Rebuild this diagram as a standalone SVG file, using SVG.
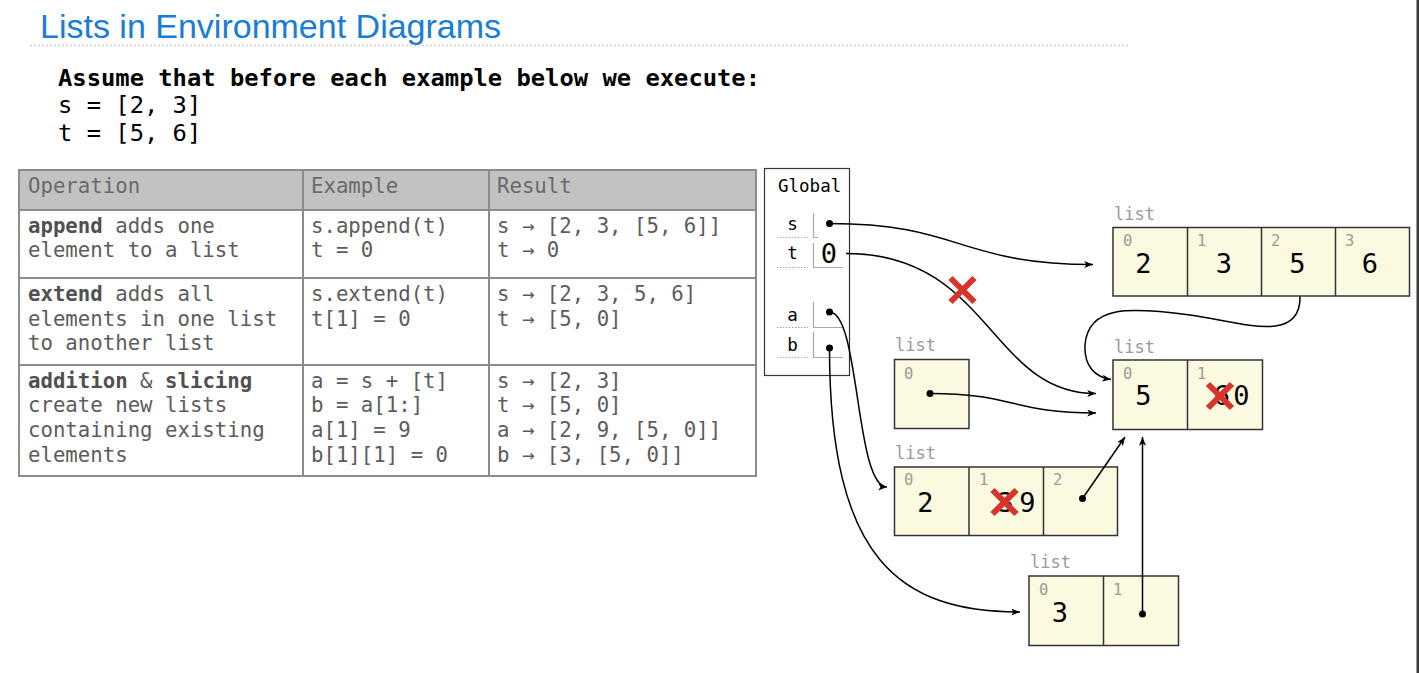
<svg xmlns="http://www.w3.org/2000/svg" width="1419" height="673" viewBox="0 0 1419 673">
<style>
.mono{font-family:"DejaVu Sans Mono","Liberation Mono",monospace}
.tb{font-family:"DejaVu Sans Mono","Liberation Mono",monospace;font-size:20.7px;fill:#5c5c5c}
.th{font-family:"DejaVu Sans Mono","Liberation Mono",monospace;font-size:20.7px;fill:#6a6a6a}
.b{font-weight:bold;fill:#505050}
.grid{stroke:#8c8c8c;stroke-width:2;fill:none}
.cell{fill:#fcf9e1;stroke:#333;stroke-width:1.5}
.div{stroke:#333;stroke-width:1.5}
.lbl{font-family:"DejaVu Sans Mono","Liberation Mono",monospace;font-size:17px;fill:#9a9a9a}
.idx{font-family:"DejaVu Sans Mono","Liberation Mono",monospace;font-size:15.5px;fill:#9a9a9a}
.val{font-family:"DejaVu Sans Mono","Liberation Mono",monospace;font-size:27px;fill:#000;text-anchor:middle}
.var{font-family:"DejaVu Sans Mono","Liberation Mono",monospace;font-size:17.5px;fill:#000;text-anchor:middle}
.slot{stroke:#a8a8a8;stroke-width:1.2;fill:none}
.dots{stroke:#a8a8a8;stroke-width:1.2;stroke-dasharray:1.5,1.5;fill:none}
.ptr{stroke:#000;stroke-width:1.5;fill:none}
.redx{stroke:#d8352a;stroke-width:6;fill:none}
</style>
<defs>
<marker id="ah" viewBox="0 0 10 8" refX="10" refY="4" markerWidth="10" markerHeight="7" markerUnits="userSpaceOnUse" orient="auto">
<path d="M0,0 L10,4 L0,8 L2.5,4 z" fill="#000"/>
</marker>
<path id="x" d="M-12,-12 L12,12 M12,-12 L-12,12"/>
</defs>
<rect width="1419" height="673" fill="#fff"/>
<rect x="1416.5" y="0" width="2.5" height="673" fill="#3a3a3c"/>

<g id="title">
<text x="40" y="38" font-family="Liberation Sans, Arial, sans-serif" font-size="34" fill="#1a7dd4">Lists in Environment Diagrams</text>
<line x1="30" y1="45.5" x2="1128" y2="45.5" stroke="#cfcfcf" stroke-width="1.5" stroke-dasharray="2,2"/>
</g>

<g id="intro" class="mono" font-size="23.8">
<text x="58" y="86" font-weight="bold">Assume that before each example below we execute:</text>
<text x="58" y="113">s = [2, 3]</text>
<text x="58" y="141">t = [5, 6]</text>
</g>

<g id="table">
<rect x="19" y="170" width="737" height="40" fill="#c2c2c2"/>
<rect x="19" y="170" width="737" height="306" class="grid"/>
<line x1="19" y1="210" x2="756" y2="210" class="grid"/>
<line x1="19" y1="278" x2="756" y2="278" class="grid"/>
<line x1="19" y1="365" x2="756" y2="365" class="grid"/>
<line x1="303" y1="170" x2="303" y2="476" class="grid"/>
<line x1="489" y1="170" x2="489" y2="476" class="grid"/>
<text class="th" x="28" y="193">Operation</text>
<text class="th" x="311" y="193">Example</text>
<text class="th" x="497" y="193">Result</text>
<text class="tb" x="28" y="233"><tspan class="b">append</tspan> adds one</text>
<text class="tb" x="28" y="257">element to a list</text>
<text class="tb" x="311" y="233">s.append(t)</text>
<text class="tb" x="311" y="257">t = 0</text>
<text class="tb" x="497" y="233">s → [2, 3, [5, 6]]</text>
<text class="tb" x="497" y="257">t → 0</text>
<text class="tb" x="28" y="301"><tspan class="b">extend</tspan> adds all</text>
<text class="tb" x="28" y="326">elements in one list</text>
<text class="tb" x="28" y="350">to another list</text>
<text class="tb" x="311" y="301">s.extend(t)</text>
<text class="tb" x="311" y="326">t[1] = 0</text>
<text class="tb" x="497" y="301">s → [2, 3, 5, 6]</text>
<text class="tb" x="497" y="326">t → [5, 0]</text>
<text class="tb" x="28" y="388"><tspan class="b">addition</tspan> &amp; <tspan class="b">slicing</tspan></text>
<text class="tb" x="28" y="412">create new lists</text>
<text class="tb" x="28" y="437">containing existing</text>
<text class="tb" x="28" y="462">elements</text>
<text class="tb" x="311" y="388">a = s + [t]</text>
<text class="tb" x="311" y="412">b = a[1:]</text>
<text class="tb" x="311" y="437">a[1] = 9</text>
<text class="tb" x="311" y="462">b[1][1] = 0</text>
<text class="tb" x="497" y="388">s → [2, 3]</text>
<text class="tb" x="497" y="412">t → [5, 0]</text>
<text class="tb" x="497" y="437">a → [2, 9, [5, 0]]</text>
<text class="tb" x="497" y="462">b → [3, [5, 0]]</text>
</g>

<g id="global">
<rect x="764.5" y="168.5" width="85" height="207" fill="#fff" stroke="#333" stroke-width="1.2"/>
<text x="778" y="191.5" class="mono" font-size="17.5">Global</text>
<text class="var" x="792.5" y="229.5">s</text>
<text class="var" x="792.5" y="259">t</text>
<text class="var" x="792.5" y="321">a</text>
<text class="var" x="792.5" y="350.5">b</text>
<path class="dots" d="M777,237.5 H808 M777,267.5 H808 M777,327.5 H808 M777,357.5 H808"/>
<path class="slot" d="M813.5,213 V237.5 H818 M813.5,243 V267.5 H843 M813.5,302 V327.5 H843 M813.5,332 V357.5 H843"/>
<text x="829" y="263" class="val" font-size="25">0</text>
</g>

<g id="list-s">
<text class="lbl" x="1114" y="220">list</text>
<rect class="cell" x="1113" y="227.5" width="296.5" height="68.5"/>
<path class="div" d="M1187.5,227.5 V296 M1261.5,227.5 V296 M1335.5,227.5 V296"/>
<text class="idx" x="1123" y="246">0</text>
<text class="idx" x="1197" y="246">1</text>
<text class="idx" x="1271" y="246">2</text>
<text class="idx" x="1345" y="246">3</text>
<text class="val" x="1143.5" y="273">2</text>
<text class="val" x="1224" y="273">3</text>
<text class="val" x="1297.5" y="273">5</text>
<text class="val" x="1370" y="273">6</text>
</g>

<g id="list-t">
<text class="lbl" x="1114" y="353">list</text>
<rect class="cell" x="1113" y="360" width="149.5" height="69.5"/>
<path class="div" d="M1187.5,360 V429.5"/>
<text class="idx" x="1123" y="379">0</text>
<text class="idx" x="1197" y="379">1</text>
<text class="val" x="1143.5" y="405">5</text>
<text class="val" x="1222" y="405">6</text>
<text class="val" x="1241.5" y="405">0</text>
<use href="#x" x="1220" y="396" class="redx"/>
</g>

<g id="list-wrap">
<text class="lbl" x="895" y="351">list</text>
<rect class="cell" x="894.5" y="359.5" width="74.5" height="69"/>
<text class="idx" x="904" y="378.5">0</text>
</g>

<g id="list-a">
<text class="lbl" x="895" y="458.5">list</text>
<rect class="cell" x="894.5" y="467" width="223" height="68.5"/>
<path class="div" d="M969,467 V535.5 M1043.5,467 V535.5"/>
<text class="idx" x="904" y="485">0</text>
<text class="idx" x="979" y="485">1</text>
<text class="idx" x="1053" y="485">2</text>
<text class="val" x="925.5" y="512">2</text>
<text class="val" x="1006" y="512">3</text>
<text class="val" x="1027.5" y="512">9</text>
<use href="#x" x="1004.5" y="502" class="redx"/>
</g>

<g id="list-b">
<text class="lbl" x="1030" y="567.5">list</text>
<rect class="cell" x="1029" y="576" width="149.5" height="69.5"/>
<path class="div" d="M1103.5,576 V645.5"/>
<text class="idx" x="1039" y="594.5">0</text>
<text class="idx" x="1113" y="594.5">1</text>
<text class="val" x="1060" y="622">3</text>
</g>

<g id="connectors">
<path class="ptr" marker-end="url(#ah)" d="M829.5,223.5 C960,223.5 960,264.5 1093,264.5"/>
<path class="ptr" marker-end="url(#ah)" d="M846,253.5 C990,253.5 990,393.5 1096,393.5"/>
<path class="ptr" marker-end="url(#ah)" d="M1300,296.5 C1301,345 1240,322 1190,315 C1130,307 1088,305 1085,345 C1084,366 1095,377 1111,379.5"/>
<path class="ptr" marker-end="url(#ah)" d="M930,393.5 C1013,393.5 1013,413 1096,413"/>
<path class="ptr" marker-end="url(#ah)" d="M829.5,312 C860,312 855,487 887,487"/>
<path class="ptr" marker-end="url(#ah)" d="M829.5,348 C829.5,560 900,612 1020,612"/>
<path class="ptr" marker-end="url(#ah)" d="M1082.5,498.5 L1125,437"/>
<path class="ptr" marker-end="url(#ah)" d="M1142.5,614 V437"/>
<circle cx="829.5" cy="223.5" r="3.5"/>
<circle cx="829.5" cy="312" r="3.5"/>
<circle cx="829.5" cy="348" r="3.5"/>
<circle cx="930" cy="393.5" r="3.5"/>
<circle cx="1082.5" cy="498.5" r="3.5"/>
<circle cx="1142.5" cy="614" r="3.5"/>
<use href="#x" x="962.5" y="290" class="redx"/>
</g>
</svg>
